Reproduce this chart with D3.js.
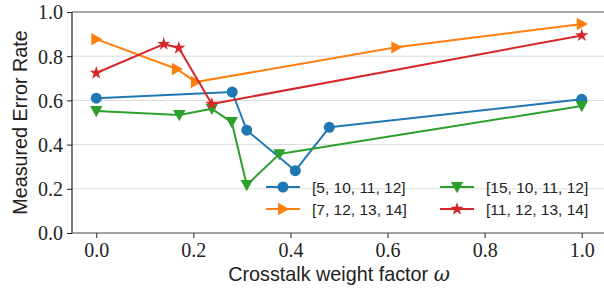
<!DOCTYPE html>
<html>
<head>
<meta charset="utf-8">
<script src="https://cdn.jsdelivr.net/npm/d3@7"></script>
<style>
  body { margin: 0; background: #fff; }
  svg { display: block; }
</style>
</head>
<body>
<svg id="chart" width="604" height="289"></svg>
<script>
const xTicks = [0.0, 0.2, 0.4, 0.6, 0.8, 1.0];
const yTicks = [0.0, 0.2, 0.4, 0.6, 0.8, 1.0];

const seriesNames = ["[5, 10, 11, 12]", "[7, 12, 13, 14]", "[15, 10, 11, 12]", "[11, 12, 13, 14]"];
const seriesColors = ["#1f77b4", "#ff7f0e", "#2ca02c", "#d62728"];
const seriesMarkers = ["circle", "triRight", "triDown", "star"];

const blueX = [0.0, 0.28, 0.31, 0.41, 0.48, 1.0];
const blueY = [0.61, 0.638, 0.465, 0.282, 0.478, 0.605];

const orangeX = [0.0, 0.166, 0.205, 0.618, 1.0];
const orangeY = [0.877, 0.742, 0.683, 0.84, 0.946];

const greenX = [0.0, 0.171, 0.238, 0.279, 0.31, 0.377, 1.0];
const greenY = [0.552, 0.534, 0.562, 0.502, 0.217, 0.357, 0.575];

const redX = [0.0, 0.139, 0.17, 0.238, 1.0];
const redY = [0.724, 0.855, 0.837, 0.584, 0.894];

const seriesX = [blueX, orangeX, greenX, redX];
const seriesY = [blueY, orangeY, greenY, redY];

const svg = d3.select("#chart");
const m = { left: 72, right: 606, top: 12, bottom: 233 };

const x = d3.scaleLinear().domain([-0.05, 1.05]).range([m.left, m.right]);
const y = d3.scaleLinear().domain([0, 1]).range([m.bottom, m.top]);

// grid
svg.append("g")
  .selectAll("line")
  .data(yTicks.slice(1, -1))
  .join("line")
  .attr("x1", m.left).attr("x2", m.right)
  .attr("y1", d => y(d)).attr("y2", d => y(d))
  .attr("stroke", "#dcdcdc")
  .attr("stroke-width", 1);

// axes
const xAxis = svg.append("g")
  .attr("transform", `translate(0,${m.bottom})`)
  .call(d3.axisBottom(x).tickValues(xTicks).tickFormat(d3.format(".1f")).tickSize(5).tickPadding(5));
const yAxis = svg.append("g")
  .attr("transform", `translate(${m.left},0)`)
  .call(d3.axisLeft(y).tickValues(yTicks).tickFormat(d3.format(".1f")).tickSize(5).tickPadding(4));

[xAxis, yAxis].forEach(a => {
  a.select(".domain").remove();
  a.selectAll(".tick line").attr("stroke", "#222");
  a.selectAll("text")
    .attr("font-family", "'Liberation Serif', serif")
    .attr("font-size", 20)
    .attr("fill", "#222");
});
xAxis.selectAll("text").attr("dy", "0.72em");
yAxis.selectAll("text").attr("dy", "0.34em");

// spines
svg.append("line").attr("x1", m.left).attr("x2", m.left).attr("y1", m.top).attr("y2", m.bottom)
  .attr("stroke", "#222").attr("stroke-width", 1.2);
svg.append("line").attr("x1", m.left).attr("x2", m.right).attr("y1", m.bottom).attr("y2", m.bottom)
  .attr("stroke", "#444").attr("stroke-width", 1.2);
svg.append("line").attr("x1", m.left).attr("x2", m.right).attr("y1", m.top).attr("y2", m.top)
  .attr("stroke", "#555").attr("stroke-width", 1.2);

// marker paths
function markerPath(type) {
  if (type === "circle") return d3.symbol(d3.symbolCircle, 95)();
  if (type === "star") return d3.symbol(d3.symbolStar, 55)();
  const s = 6.2;
  if (type === "triRight") return `M${s},0L${-s * 0.8},${-s}L${-s * 0.8},${s}Z`;
  if (type === "triDown") return `M0,${s}L${-s},${-s * 0.8}L${s},${-s * 0.8}Z`;
}

const line = d3.line().x(d => x(d[0])).y(d => y(d[1]));

seriesNames.forEach((name, i) => {
  const pts = seriesX[i].map((v, j) => [v, seriesY[i][j]]);
  const g = svg.append("g");
  g.append("path")
    .attr("d", line(pts))
    .attr("fill", "none")
    .attr("stroke", seriesColors[i])
    .attr("stroke-width", 2)
    .attr("stroke-linejoin", "round");
  g.selectAll("path.m")
    .data(pts)
    .join("path")
    .attr("class", "m")
    .attr("d", markerPath(seriesMarkers[i]))
    .attr("transform", d => `translate(${x(d[0])},${y(d[1])})`)
    .attr("fill", seriesColors[i]);
});

// legend, two columns filled column-wise
const legendCols = [266, 440];
const legendRows = [187, 209];
seriesNames.forEach((name, i) => {
  const lx = legendCols[Math.floor(i / 2)];
  const ly = legendRows[i % 2];
  const g = svg.append("g").attr("transform", `translate(${lx},${ly})`);
  g.append("line").attr("x1", 0).attr("x2", 34).attr("y1", 0).attr("y2", 0)
    .attr("stroke", seriesColors[i]).attr("stroke-width", 2);
  g.append("path").attr("d", markerPath(seriesMarkers[i]))
    .attr("transform", "translate(17,0)")
    .attr("fill", seriesColors[i]);
  g.append("text").attr("x", 46).attr("y", 0).attr("dy", "0.36em")
    .attr("font-family", "'Liberation Sans', Arial, sans-serif")
    .attr("font-size", 15.5)
    .attr("fill", "#222")
    .text(name);
});

// axis labels
svg.append("text")
  .attr("x", (x(0) + x(1)) / 2)
  .attr("y", 281)
  .attr("text-anchor", "middle")
  .attr("font-family", "'Liberation Sans', Arial, sans-serif")
  .attr("font-size", 19.8)
  .attr("fill", "#222")
  .text("Crosstalk weight factor ")
  .append("tspan")
  .attr("font-family", "'DejaVu Serif', serif")
  .attr("font-style", "italic")
  .text("ω");

svg.append("text")
  .attr("transform", `translate(27,${(m.top + m.bottom) / 2}) rotate(-90)`)
  .attr("text-anchor", "middle")
  .attr("font-family", "'Liberation Sans', Arial, sans-serif")
  .attr("font-size", 19.8)
  .attr("fill", "#222")
  .text("Measured Error Rate");
</script>
</body>
</html>
